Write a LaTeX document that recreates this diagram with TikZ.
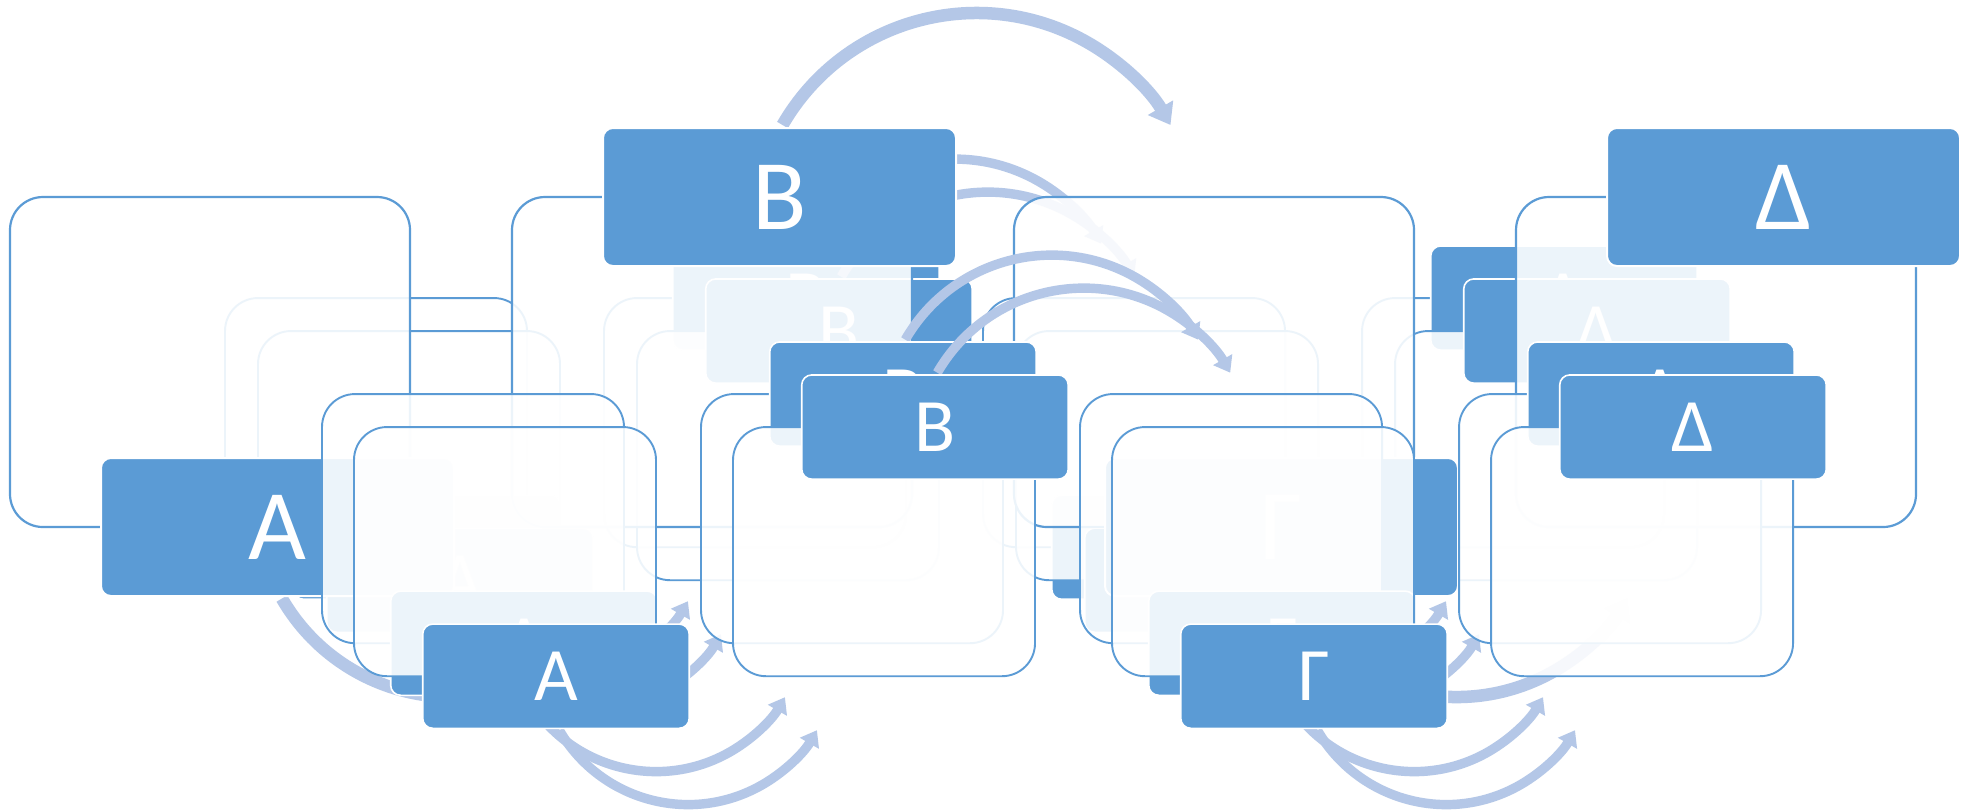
\documentclass[tikz,border=0pt]{standalone}
\usepackage{fontspec}
\setmainfont{Carlito}
\usetikzlibrary{arrows.meta}
\definecolor{boxblue}{HTML}{5B9BD5}
\definecolor{arcblue}{HTML}{B4C7E7}
\tikzset{
  bx/.style={draw=boxblue, fill=white, fill opacity=0.89, rounded corners=16.5pt,
    minimum width=200pt, minimum height=165pt, inner sep=0pt},
  lbl/.style={draw=white, fill=boxblue, rounded corners=5pt, minimum width=176.5pt,
    minimum height=69pt, inner sep=0pt, text=white, font=\fontsize{50}{60}\selectfont},
  flow/.style={draw=arcblue, line cap=butt},
}
\newcommand\drawlayer[4]{%
\begin{scope}[shift={(#3,#4)}, scale=#2, transform shape]
\pgfmathsetlengthmacro\lwb{(0.5+0.6*#2)*1pt}%
\pgfmathsetlengthmacro\lwl{(0.2+0.8*#2)*1pt}%
\pgfmathsetlengthmacro\lwa{6.25*#2*1pt}%
\pgfmathsetlengthmacro\aw{14*#2*1pt}%
\pgfmathsetlengthmacro\al{10*#2*1pt}%
\node[bx, line width=\lwb] (#1-b1) at (210,362) {};
\node[bx, line width=\lwb] (#1-b2) at (712,362) {};
\node[bx, line width=\lwb] (#1-b3) at (1214,362) {};
\node[bx, line width=\lwb] (#1-b4) at (1716,362) {};
\coordinate (#1-ab) at (281.9,598.5);
\coordinate (#1-bg) at (782.5,125);
\coordinate (#1-gd) at (1285.9,598.5);
\draw[flow, line width=\lwa, -{Triangle[width=\aw,length=\al]}] (#1-ab) arc[start angle=210, end angle=330, radius=98.5pt];
\draw[flow, line width=\lwa, -{Triangle[width=\aw,length=\al]}] (#1-bg) arc[start angle=150, end angle=30, radius=112pt];
\draw[flow, line width=\lwa, -{Triangle[width=\aw,length=\al]}] (#1-gd) arc[start angle=210, end angle=330, radius=98.5pt];
\node[lbl, line width=\lwl] (#1-a) at (277.5,527) {Α};
\node[lbl, line width=\lwl] (#1-b) at (779.5,197) {Β};
\node[lbl, line width=\lwl] (#1-g) at (1281.5,527) {Γ};
\node[lbl, line width=\lwl] (#1-d) at (1783.5,197) {Δ};
\end{scope}}
\begin{document}
\begin{tikzpicture}[x=0.5pt, y=-0.5pt]
\useasboundingbox (0,0) rectangle (1962,811);
\fill[white] (0,0) rectangle (1962,811);
\drawlayer{p}{0.755}{217.45}{149.3}
\drawlayer{q}{0.755}{250.45}{182.3}
\drawlayer{m}{1}{0}{0}
\drawlayer{r}{0.755}{314.45}{245.3}
\drawlayer{t}{0.755}{346.45}{278.3}
\end{tikzpicture}
\end{document}
